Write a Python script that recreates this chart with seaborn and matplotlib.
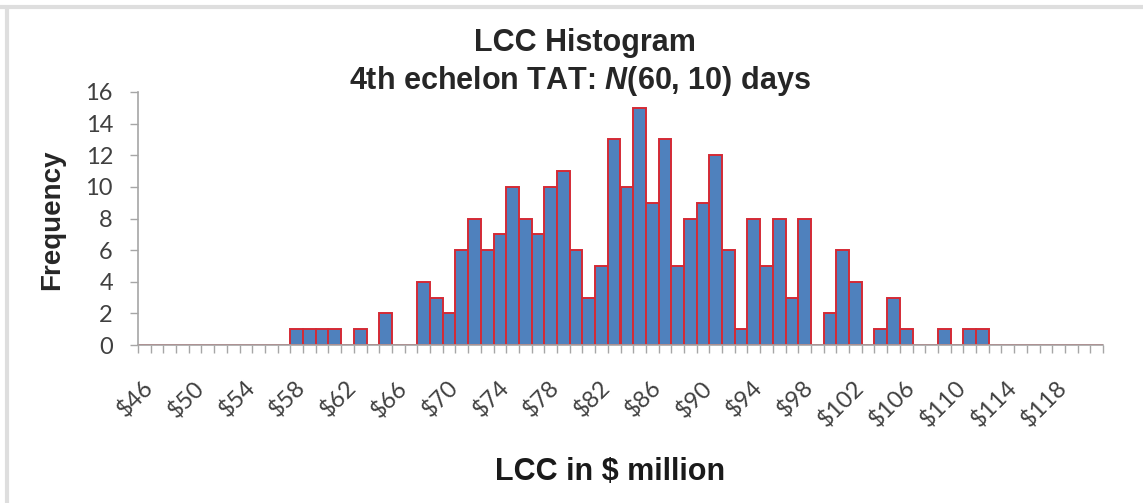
import numpy as np
import matplotlib
matplotlib.use("Agg")
import matplotlib.pyplot as plt
import matplotlib.transforms as mtransforms
from matplotlib.lines import Line2D
import seaborn as sns

# LCC bins, $1 million wide, $46 .. $121
lcc_bins = ["$%d" % v for v in range(46, 122)]
frequency = [
    0, 0, 0, 0, 0, 0, 0, 0, 0, 0, 0, 0,        # $46 - $57
    1, 1, 1, 1, 0, 1, 0, 2, 0, 0,              # $58 - $67
    4, 3, 2, 6, 8, 6, 7, 10, 8, 7,             # $68 - $77
    10, 11, 6, 3, 5, 13, 10, 15, 9, 13,        # $78 - $87
    5, 8, 9, 12, 6, 1, 8, 5, 8, 3,             # $88 - $97
    8, 0, 2, 6, 4, 0, 1, 3, 1, 0,              # $98 - $107
    0, 1, 0, 1, 1,                             # $108 - $112
    0, 0, 0, 0, 0, 0, 0, 0, 0,                 # $113 - $121
]
y_ticks = [0, 2, 4, 6, 8, 10, 12, 14, 16]

sns.set_style("white")
plt.rcParams["font.family"] = ["Lato", "DejaVu Sans"]
plt.rcParams["mathtext.fontset"] = "custom"
plt.rcParams["mathtext.it"] = "Liberation Sans:italic:bold"
plt.rcParams["mathtext.rm"] = "Liberation Sans:bold"

W, H = 1143, 503
fig = plt.figure(figsize=(W / 100, H / 100), dpi=100)
ax = fig.add_axes([138 / W, 1 - 345 / H, (1103 - 138) / W, (345 - 92) / H])

sns.barplot(x=lcc_bins, y=frequency, color="#4F81BD", saturation=1,
            edgecolor="#D42A35", linewidth=1.4, width=1.0,
            errorbar=None, ax=ax)

gray = "#A6A6A6"
ax.set_xlim(-0.5, len(lcc_bins) - 0.5)
ax.set_ylim(0, 16)
ax.set_yticks(y_ticks)
ax.set_yticklabels([str(t) for t in y_ticks], fontsize=17, color="#404040")

ax.set_xticks(range(0, len(lcc_bins), 4))
ax.set_xticklabels(lcc_bins[::4], fontsize=17, color="#404040")
ax.set_xticks(np.arange(-0.5, len(lcc_bins), 1), minor=True)
ax.tick_params(axis="x", which="major", bottom=True, length=0, pad=23)
ax.tick_params(axis="x", which="minor", bottom=True, length=6, width=1,
               color=gray, direction="out")
ax.tick_params(axis="y", left=True, length=6, width=1, color=gray,
               direction="out", pad=12)
offset = mtransforms.ScaledTranslation(-2 / 100, 0, fig.dpi_scale_trans)
for lab in ax.get_xticklabels():
    lab.set_rotation(45)
    lab.set_ha("right")
    lab.set_va("top")
    lab.set_rotation_mode("anchor")
    lab.set_transform(lab.get_transform() + offset)

for side in ["top", "right"]:
    ax.spines[side].set_visible(False)
for side in ["left", "bottom"]:
    ax.spines[side].set_color(gray)
    ax.spines[side].set_linewidth(1.2)
ax.set_xlabel("")
ax.set_ylabel("")

# titles and axis labels
title_font = dict(family="Liberation Sans", weight="bold", fontsize=22, ha="center", va="baseline")
fig.text(585 / W, 1 - 51 / H, "LCC Histogram", **title_font)
fig.text(580 / W, 1 - 89 / H, r"4th echelon TAT: $\mathit{N}$(60, 10) days", **title_font)
fig.text(52 / W, 1 - 220 / H, "Frequency", family="Liberation Sans", weight="bold",
         fontsize=20, rotation=90, ha="center", va="center")
fig.text(610 / W, 1 - 480 / H, "LCC in $ million", family="Liberation Sans", weight="bold",
         fontsize=22, ha="center", va="baseline", color="#1a1a1a")

# light frame along the top and left edges
fig.add_artist(Line2D([0, 1], [1 - 7 / H, 1 - 7 / H], color="#DEDEDE", lw=3,
                      transform=fig.transFigure))
fig.add_artist(Line2D([7 / W, 7 / W], [0, 1 - 7 / H], color="#DEDEDE", lw=3,
                      transform=fig.transFigure))

fig.savefig("out.png", dpi=100)
